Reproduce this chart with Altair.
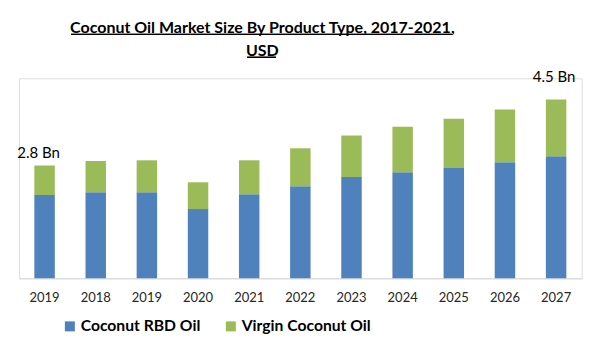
import json
import altair as alt
import pandas as pd

# ---- data ----
years = ["2019", "2018", "2019", "2020", "2021", "2022", "2023", "2024", "2025", "2026", "2027"]
series = ["Coconut RBD Oil", "Virgin Coconut Oil"]
rbd_oil = [2.08, 2.15, 2.15, 1.73, 2.10, 2.30, 2.53, 2.65, 2.76, 2.90, 3.05]
virgin_oil = [0.74, 0.78, 0.80, 0.67, 0.85, 0.95, 1.04, 1.14, 1.23, 1.32, 1.42]
note_index = [0, 10]
note_value = [2.8, 4.5]
note_text = ["2.8 Bn", "4.5 Bn"]
title_lines = ["Coconut Oil Market Size By Product Type, 2017-2021,", "USD"]

colors = ["#4f81bd", "#9bbb59"]

rows = []
for i, y in enumerate(years):
    rows.append({"idx": i, "year": y, "series": series[0], "value": rbd_oil[i], "ord": 0})
    rows.append({"idx": i, "year": y, "series": series[1], "value": virgin_oil[i], "ord": 1})
df = pd.DataFrame(rows)
notes = pd.DataFrame({"idx": note_index, "value": note_value, "text": note_text})

label_expr = json.dumps(years) + "[datum.value]"

x_enc = alt.X(
    "idx:O",
    title=None,
    scale=alt.Scale(paddingInner=0.6, paddingOuter=0.3),
    axis=alt.Axis(
        labelExpr=label_expr,
        labelAngle=0,
        ticks=False,
        tickSize=0,
        labelPadding=13,
        labelFont="Lato",
        labelFontSize=13,
        labelColor="#262626",
        domainColor="#d9d9d9",
        domainWidth=1,
        grid=False,
    ),
)
y_scale = alt.Scale(domain=[0, 5])

bars = (
    alt.Chart(df)
    .mark_bar()
    .encode(
        x=x_enc,
        y=alt.Y("value:Q", stack="zero", scale=y_scale, axis=None),
        color=alt.Color(
            "series:N",
            scale=alt.Scale(domain=series, range=colors),
            legend=alt.Legend(
                title=None,
                orient="none",
                direction="horizontal",
                legendX=43,
                legendY=240,
                symbolType="square",
                symbolSize=100,
                symbolStrokeWidth=0,
                labelFont="Lato",
                labelFontSize=15.7,
                labelFontWeight="bold",
                labelColor="#000000",
                labelOffset=3,
                columnPadding=22,
                padding=0,
            ),
        ),
        order=alt.Order("ord:Q"),
    )
)

note_first = (
    alt.Chart(notes)
    .transform_filter(alt.datum.idx == note_index[0])
    .mark_text(font="Lato", fontSize=15, color="#000000", baseline="alphabetic", dx=-6, dy=-8)
    .encode(x=alt.X("idx:O"), y=alt.Y("value:Q", scale=y_scale), text="text:N")
)
note_last = (
    alt.Chart(notes)
    .transform_filter(alt.datum.idx == note_index[1])
    .mark_text(font="Lato", fontSize=15, color="#000000", baseline="alphabetic", dx=-2, dy=-16)
    .encode(x=alt.X("idx:O"), y=alt.Y("value:Q", scale=y_scale), text="text:N")
)

underline1 = alt.Chart(notes).mark_rule(color="#000000", strokeWidth=1.3).encode(
    x=alt.value(52), x2=alt.value(433), y=alt.value(-44)
)
underline2 = alt.Chart(notes).mark_rule(color="#000000", strokeWidth=1.3).encode(
    x=alt.value(228), x2=alt.value(257), y=alt.value(-21)
)

chart = (
    alt.layer(bars, note_first, note_last, underline1, underline2)
    .properties(
        width=562.7,
        height=200,
        title=alt.TitleParams(
            text=title_lines,
            font="Lato",
            fontSize=16,
            fontWeight="bold",
            color="#000000",
            lineHeight=22.6,
            anchor="middle",
            dx=-38,
            dy=29,
        ),
        autosize=alt.AutoSizeParams(type="none"),
        padding={"left": 11, "top": 70.3, "right": 2, "bottom": 57},
    )
    .configure_view(stroke=None)
    .configure(background="#ffffff")
)

chart.save("out.html", embed_options={"renderer": "svg", "actions": False})
